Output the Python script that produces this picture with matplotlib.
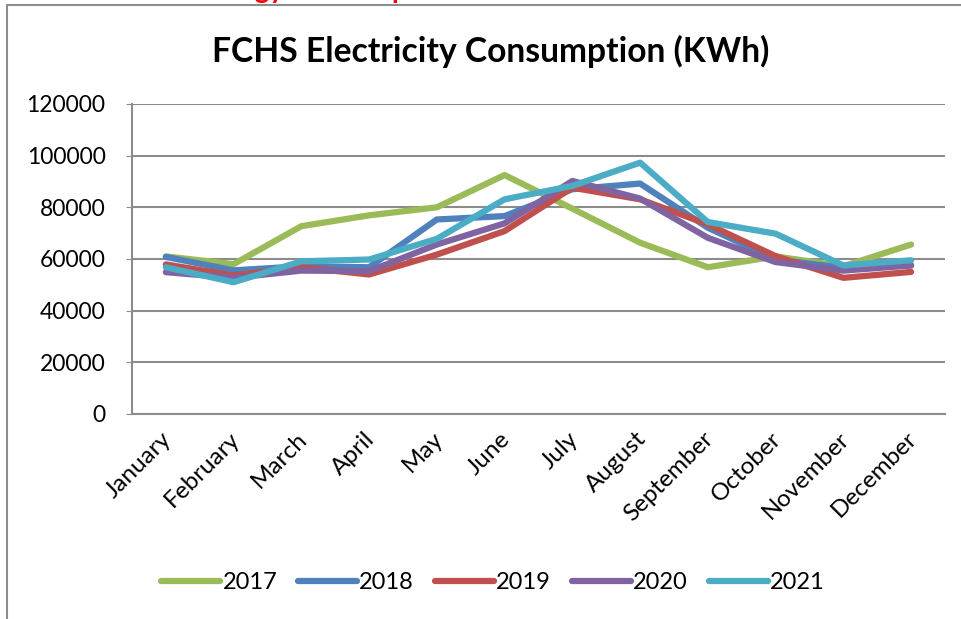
import matplotlib
matplotlib.use("Agg")
import matplotlib.pyplot as plt
import matplotlib.transforms as mtrans
from matplotlib.patches import Rectangle

months = ['January', 'February', 'March', 'April', 'May', 'June', 'July',
          'August', 'September', 'October', 'November', 'December']
years = ['2017', '2018', '2019', '2020', '2021']
kwh_2017 = [61000, 58000, 72700, 76900, 80000, 92500, 79500, 66300, 56800, 61000, 57200, 65600]
kwh_2018 = [60800, 55600, 57200, 56800, 75300, 76600, 87000, 89200, 72100, 59800, 56600, 57500]
kwh_2019 = [57900, 53600, 56800, 54000, 61700, 70800, 87600, 83100, 73400, 61100, 52700, 55000]
kwh_2020 = [54900, 52700, 55500, 55300, 65600, 73800, 90200, 83400, 68200, 58800, 55500, 57500]
kwh_2021 = [56800, 51000, 59100, 59800, 67800, 83100, 88300, 97300, 74300, 69800, 57500, 59500]
series = [kwh_2017, kwh_2018, kwh_2019, kwh_2020, kwh_2021]
colors = ['#9BBB59', '#4F81BD', '#C0504D', '#8064A2', '#4BACC6']

plt.rcParams['font.family'] = ['Lato', 'DejaVu Sans']

fig = plt.figure(figsize=(9.62, 6.19), dpi=100)
ax = fig.add_axes([0.1372, 0.3312, 0.8451, 0.5008])

# outer chart frame (only top and left edges visible)
fig.patches.append(Rectangle((7/962, -0.1), 2, 1.1 - 5/619, transform=fig.transFigure,
                             fill=False, edgecolor='#8c8c8c', linewidth=1.5))

# red heading above the chart, mostly cut off by the image edge
fig.text(198/962, 1.0 + 2/619, 'Energy Consumption', color='red', fontsize=20,
         fontweight='bold', va='baseline', ha='left')

fig.text(491/962, 1 - 62/619, 'FCHS Electricity Consumption (KWh)', fontsize=24.2,
         fontweight='bold', ha='center', va='baseline')

x = list(range(len(months)))
for vals, yr, c in zip(series, years, colors):
    ax.plot(x, vals, color=c, linewidth=4.5, label=yr, solid_capstyle='round')

ax.set_xlim(-0.5, 11.5)
ax.set_ylim(0, 120000)
ax.set_yticks(range(0, 120001, 20000))
ax.yaxis.grid(True, color='#8c8c8c', linewidth=1.5)
ax.set_axisbelow(True)
for s in ['top', 'right']:
    ax.spines[s].set_visible(False)
for s in ['left', 'bottom']:
    ax.spines[s].set_color('#8c8c8c')
    ax.spines[s].set_linewidth(1.5)
ax.tick_params(axis='y', length=4, color='#8c8c8c', labelsize=16.5, pad=15)
ax.tick_params(axis='x', length=0, labelsize=17.5, pad=8)
ax.set_xticks(x)
ax.set_xticklabels(months, rotation=45, ha='right', rotation_mode='anchor')
shift = mtrans.ScaledTranslation(-5/100, -3/100, fig.dpi_scale_trans)
for lbl in ax.get_xticklabels():
    lbl.set_transform(lbl.get_transform() + shift)

ax.legend(loc='center', bbox_to_anchor=(0.444, -0.545), ncol=5, frameon=False,
          fontsize=17, handlelength=2.5, columnspacing=0.88, handletextpad=0.1)

fig.savefig('out.png', dpi=100)
